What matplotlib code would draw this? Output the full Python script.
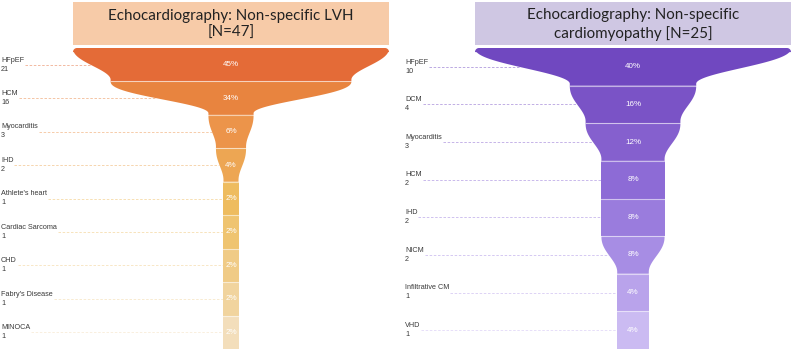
import numpy as np
import matplotlib
matplotlib.use("Agg")
import matplotlib.pyplot as plt
from matplotlib.patches import Polygon, Rectangle

# ---- data ----
left_title = "Echocardiography: Non-specific LVH\n[N=47]"
left_total = 47
left_categories = ["HFpEF", "HCM", "Myocarditis", "IHD", "Athlete's heart",
                   "Cardiac Sarcoma", "CHD", "Fabry's Disease", "MINOCA"]
left_counts = [21, 16, 3, 2, 1, 1, 1, 1, 1]
left_colors = ["#E46B37", "#E8843F", "#EC944A", "#EDA653", "#EEBC5F",
               "#EFC470", "#F0CB86", "#F1D49E", "#F3DEBB"]
left_title_color = "#F7CBA8"

right_title = "Echocardiography: Non-specific\ncardiomyopathy [N=25]"
right_total = 25
right_categories = ["HFpEF", "DCM", "Myocarditis", "HCM", "IHD", "NICM",
                    "Infiltrative CM", "VHD"]
right_counts = [10, 4, 3, 2, 2, 2, 1, 1]
right_colors = ["#7048C0", "#7A53C6", "#8560CE", "#8D6BD6", "#9A7CDD",
                "#A78DE4", "#B9A3EB", "#CBBBF2"]
right_title_color = "#CFC7E3"

W_PX, H_PX = 797, 352
fig = plt.figure(figsize=(W_PX / 100, H_PX / 100), dpi=100)
ax = fig.add_axes([0, 0, 1, 1])
ax.set_xlim(0, W_PX)
ax.set_ylim(H_PX, 0)
ax.axis("off")

TITLE_FONT = ["Lato", "DejaVu Sans"]
LABEL_FONT = ["Liberation Sans", "DejaVu Sans"]


def ease(t):
    t = np.clip(t, 0, 1) ** 1.15
    return (1 - np.cos(np.pi * t)) / 2


def draw_panel(cx, label_x, title, total, cats, counts, colors, tcolor):
    maxw = 316.0
    y0, y1 = 48.0, 349.0
    n = len(counts)
    h = (y1 - y0) / n
    widths = [maxw * c / max(counts) for c in counts]
    # title box
    ax.add_patch(Rectangle((cx - maxw / 2, 2), maxw, 43, facecolor=tcolor,
                           edgecolor="none", zorder=1))
    ax.text(cx, 24.5, title, ha="center", va="center", fontsize=10.9,
            family=TITLE_FONT, color="#222222", linespacing=1.3, zorder=3)
    renderer = fig.canvas.get_renderer()
    frac = 0.95
    for i, (cat, c, col) in enumerate(zip(cats, counts, colors)):
        yt = y0 + i * h
        yb = yt + h
        w_top = widths[i]
        w_bot = widths[i + 1] if i + 1 < n else widths[i]
        ys = np.linspace(yt, yb, 80)
        t = (ys - yt) / (h * frac)
        half = (w_top + (w_bot - w_top) * ease(t)) / 2
        xl = cx - half
        xr = cx + half
        if i == 0:
            r = 4.0
            th = np.linspace(0, np.pi / 2, 12)
            arc_l = [(cx - w_top / 2 + r - r * np.sin(a), yt + r - r * np.cos(a)) for a in th]
            arc_r = [(cx + w_top / 2 - r + r * np.sin(a), yt + r - r * np.cos(a)) for a in th]
            mask = ys > yt + r
            pts = arc_l + list(zip(xl[mask], ys[mask])) + \
                list(zip(xr[mask][::-1], ys[mask][::-1])) + arc_r[::-1]
        else:
            pts = list(zip(xl, ys)) + list(zip(xr[::-1], ys[::-1]))
        ax.add_patch(Polygon(pts, closed=True, facecolor=col, edgecolor="none",
                             zorder=2))
        if i > 0:
            ax.plot([cx - w_top / 2, cx + w_top / 2], [yt, yt], color="white",
                    alpha=0.55, lw=0.8, zorder=3)
        ym = yt + h / 2
        pct = round(100 * c / total)
        ax.text(cx, ym, f"{pct}%", ha="center", va="center", fontsize=5.8,
                family=LABEL_FONT, color="white", zorder=4)
        tn = ax.text(label_x, ym - 1.2, cat, ha="left", va="bottom",
                     fontsize=5.2, family=LABEL_FONT, color="#3a3a3a", zorder=4)
        ax.text(label_x, ym + 0.8, str(c), ha="left", va="top",
                fontsize=5.2, family=LABEL_FONT, color="#3a3a3a", zorder=4)
        bb = tn.get_window_extent(renderer=renderer)
        x_start = ax.transData.inverted().transform((bb.x1, 0))[0] + 1
        half_m = (w_top + (w_bot - w_top) * ease(0.5 / frac)) / 2
        ax.plot([x_start, cx - half_m], [ym, ym], color=col, alpha=0.55,
                lw=0.6, ls=(0, (3, 2)), zorder=1)


draw_panel(231, 1, left_title, left_total, left_categories, left_counts,
           left_colors, left_title_color)
draw_panel(633, 405, right_title, right_total, right_categories, right_counts,
           right_colors, right_title_color)

fig.savefig("out.png", dpi=100, facecolor="white")
